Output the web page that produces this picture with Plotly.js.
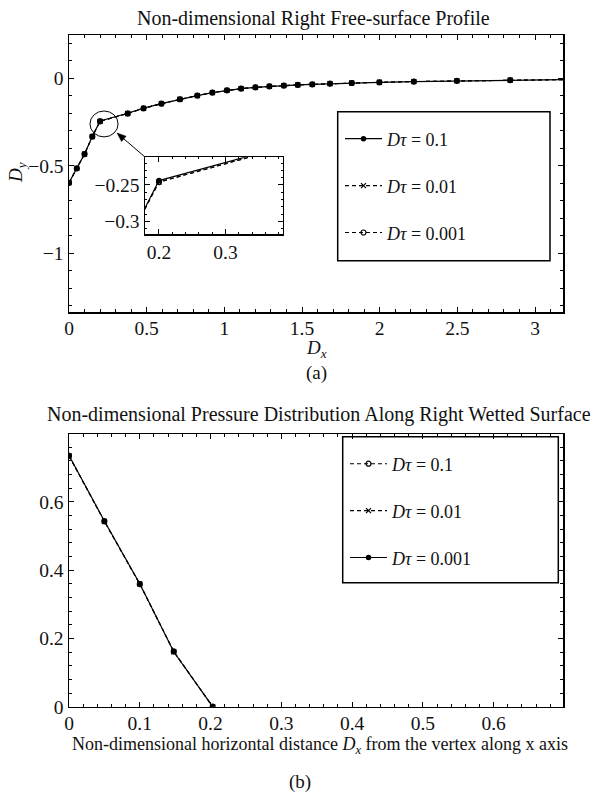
<!DOCTYPE html>
<html>
<head>
<meta charset="utf-8">
<script src="https://cdn.plot.ly/plotly-3.0.1.min.js"></script>
<style>html,body{margin:0;padding:0;background:#fff;}#chart{width:594px;height:796px;}</style>
</head>
<body>
<div id="chart"></div>
<script>
// ---- (a) free-surface profile data ----
const profileX = [0, 0.05, 0.1, 0.15, 0.2, 0.378, 0.48, 0.595, 0.714, 0.826, 0.923, 1.017, 1.108, 1.2, 1.29, 1.383, 1.473, 1.566, 1.68, 1.82, 1.998, 2.22, 2.497, 2.84, 3.25];
const profileY_dt01 = [-0.597, -0.515, -0.433, -0.333, -0.244, -0.200, -0.171, -0.145, -0.120, -0.099, -0.082, -0.069, -0.059, -0.052, -0.046, -0.042, -0.038, -0.035, -0.031, -0.027, -0.023, -0.019, -0.015, -0.011, -0.007];
const profileY_dt001 = [-0.597, -0.515, -0.433, -0.333, -0.246, -0.2015, -0.172, -0.145, -0.120, -0.099, -0.082, -0.069, -0.059, -0.052, -0.046, -0.042, -0.038, -0.035, -0.031, -0.027, -0.023, -0.019, -0.015, -0.011, -0.007];
const profileY_dt0001 = [-0.597, -0.515, -0.433, -0.333, -0.246, -0.2015, -0.172, -0.145, -0.120, -0.099, -0.082, -0.069, -0.059, -0.052, -0.046, -0.042, -0.038, -0.035, -0.031, -0.027, -0.023, -0.019, -0.015, -0.011, -0.007];
const profileNames = ['<i>Dτ</i> = 0.1', '<i>Dτ</i> = 0.01', '<i>Dτ</i> = 0.001'];

// ---- (b) pressure distribution data ----
const pressX = [0, 0.05, 0.1, 0.148, 0.203];
const pressY_dt01 = [0.735, 0.543, 0.359, 0.162, 0.0];
const pressY_dt001 = [0.735, 0.543, 0.360, 0.161, 0.0];
const pressY_dt0001 = [0.736, 0.544, 0.360, 0.161, 0.0];
const pressNames = ['<i>Dτ</i> = 0.1', '<i>Dτ</i> = 0.01', '<i>Dτ</i> = 0.001'];

const FONT = 'Liberation Serif, Times New Roman, serif';
const W = 594, H = 796;
const px = v => v / W;
const py = v => 1 - v / H;
const FS = 19.5;
const LFS = 18;

const solid = {color: '#000', width: 1.2};
const dashed = {color: '#000', width: 1.1, dash: '4px,3px'};
const mDot = {symbol: 'circle', size: 5.5, color: '#000'};
const mX = {symbol: 'x-thin-open', size: 5, color: '#000', line: {color: '#000', width: 1.2}};
const mO = {symbol: 'circle-open', size: 5, color: '#000', line: {color: '#000', width: 1.2}};

const traces = [];
const profSeries = [profileY_dt01, profileY_dt001, profileY_dt0001];
const profStyles = [[solid, mDot], [dashed, mX], [dashed, mO]];
profSeries.forEach((ys, i) => {
  traces.push({x: profileX, y: ys, xaxis: 'x', yaxis: 'y', type: 'scatter', mode: 'lines+markers',
    name: profileNames[i], line: profStyles[i][0], marker: profStyles[i][1],
    legend: 'legend', legendgroup: 'a' + i});
});
profSeries.forEach((ys, i) => {
  traces.push({x: profileX, y: ys, xaxis: 'x3', yaxis: 'y3', type: 'scatter', mode: 'lines+markers',
    name: profileNames[i], line: profStyles[i][0], marker: profStyles[i][1], showlegend: false});
});
const pressSeries = [pressY_dt01, pressY_dt001, pressY_dt0001];
const pressStyles = [[dashed, mO], [dashed, mX], [solid, mDot]];
pressSeries.forEach((ys, i) => {
  traces.push({x: pressX, y: ys, xaxis: 'x2', yaxis: 'y2', type: 'scatter', mode: 'lines+markers',
    name: pressNames[i], line: pressStyles[i][0], marker: pressStyles[i][1],
    legend: 'legend2', legendgroup: 'b' + i});
});

const tickFont = {family: FONT, size: FS, color: '#111'};
function ax(extra) {
  return Object.assign({
    showline: true, linecolor: '#000', linewidth: 1.5, mirror: 'allticks',
    ticks: 'inside', ticklen: 5, tickwidth: 1, tickcolor: '#000',
    showgrid: false, zeroline: false, tickfont: tickFont, fixedrange: true
  }, extra);
}

// arrow geometry (pixels) from inset corner to ellipse
const tail = [145, 157], head = [117, 133];
const dxA = head[0] - tail[0], dyA = head[1] - tail[1];
const lenA = Math.hypot(dxA, dyA), ux = dxA / lenA, uy = dyA / lenA;
const bx = head[0] - 9 * ux, by = head[1] - 9 * uy;
const w1 = [bx + 3.5 * (-uy), by + 3.5 * ux], w2 = [bx - 3.5 * (-uy), by - 3.5 * ux];
const P = (p) => px(p[0]) + ',' + py(p[1]);

const layout = {
  width: W, height: H,
  margin: {l: 0, r: 0, t: 0, b: 0},
  paper_bgcolor: '#fff', plot_bgcolor: 'rgba(0,0,0,0)',
  font: {family: FONT, color: '#111', size: FS},
  xaxis: ax({domain: [px(69), px(563)], anchor: 'y', range: [0, 3.18], dtick: 0.5, tick0: 0,
    ticklabelstandoff: -2,
    minor: {dtick: 0.1, ticks: 'inside', ticklen: 3, tickcolor: '#000'}}),
  yaxis: ax({domain: [py(312), py(35)], anchor: 'x', range: [-1.335, 0.247], dtick: 0.5, tick0: 0,
    minor: {dtick: 0.1, ticks: 'inside', ticklen: 3, tickcolor: '#000'}}),
  xaxis3: ax({domain: [px(145), px(282.7)], anchor: 'y3', range: [0.179, 0.386], dtick: 0.1, tick0: 0,
    minor: {dtick: 0.02, ticks: 'inside', ticklen: 2, tickcolor: '#000'}}),
  yaxis3: ax({domain: [py(234.3), py(157.3)], anchor: 'x3', range: [-0.3173, -0.2122], dtick: 0.05, tick0: 0,
    minor: {dtick: 0.01, ticks: 'inside', ticklen: 2, tickcolor: '#000'}}),
  xaxis2: ax({domain: [px(69), px(563)], anchor: 'y2', range: [0, 0.698], dtick: 0.1, tick0: 0,
    ticklabelstandoff: -2,
    minor: {dtick: 0.02, ticks: 'inside', ticklen: 3, tickcolor: '#000'}}),
  yaxis2: ax({domain: [py(706.7), py(434.3)], anchor: 'x2', range: [0, 0.798], dtick: 0.2, tick0: 0,
    minor: {dtick: 0.04, ticks: 'inside', ticklen: 3, tickcolor: '#000'}}),
  legend: {x: px(340), y: py(120.5), xanchor: 'left', yanchor: 'top', bgcolor: 'rgba(0,0,0,0)',
    borderwidth: 0, itemwidth: 37, tracegroupgap: 20.5, traceorder: 'grouped',
    font: {family: FONT, size: LFS, color: '#111'}},
  legend2: {x: px(345), y: py(445.5), xanchor: 'left', yanchor: 'top', bgcolor: 'rgba(0,0,0,0)',
    borderwidth: 0, itemwidth: 37, tracegroupgap: 20.5, traceorder: 'grouped',
    font: {family: FONT, size: LFS, color: '#111'}},
  shapes: [
    {type: 'rect', xref: 'paper', yref: 'paper', x0: px(337.7), x1: px(550), y0: py(260.7), y1: py(111.7),
      line: {color: '#000', width: 1.5}},
    {type: 'rect', xref: 'paper', yref: 'paper', x0: px(342.7), x1: px(558.3), y0: py(582.7), y1: py(436.7),
      line: {color: '#000', width: 1.5}},
    {type: 'circle', xref: 'x', yref: 'y', x0: 0.135, x1: 0.316, y0: -0.335, y1: -0.187,
      line: {color: '#000', width: 1}},
    {type: 'line', xref: 'paper', yref: 'paper', x0: px(tail[0]), y0: py(tail[1]), x1: px(bx), y1: py(by),
      line: {color: '#000', width: 1}},
    {type: 'path', xref: 'paper', yref: 'paper', path: 'M' + P(head) + ' L' + P(w1) + ' L' + P(w2) + ' Z',
      fillcolor: '#000', line: {color: '#000', width: 0.5}}
  ],
  annotations: [
    {text: 'Non-dimensional Right Free-surface Profile', xref: 'paper', yref: 'paper', x: px(313.5), y: py(18),
      xanchor: 'center', yanchor: 'middle', showarrow: false, font: {family: FONT, size: 20, color: '#111'}},
    {text: 'Non-dimensional Pressure Distribution Along Right Wetted Surface', xref: 'paper', yref: 'paper',
      x: px(318.5), y: py(415), xanchor: 'center', yanchor: 'middle', showarrow: false,
      font: {family: FONT, size: 20, color: '#111'}},
    {text: '<i>D<sub>x</sub></i>', xref: 'paper', yref: 'paper', x: px(316), y: py(349), xanchor: 'center',
      yanchor: 'middle', showarrow: false, font: {family: FONT, size: 19, color: '#111'}},
    {text: '<i>D<sub>y</sub></i>', xref: 'paper', yref: 'paper', x: px(17), y: py(173), xanchor: 'center',
      yanchor: 'middle', textangle: -90, showarrow: false, font: {family: FONT, size: 19, color: '#111'}},
    {text: 'Non-dimensional horizontal distance <i>D<sub>x</sub></i> from the vertex along x axis',
      xref: 'paper', yref: 'paper', x: px(320), y: py(745), xanchor: 'center', yanchor: 'middle',
      showarrow: false, font: {family: FONT, size: 18, color: '#111'}},
    {text: '(a)', xref: 'paper', yref: 'paper', x: px(316), y: py(373), xanchor: 'center', yanchor: 'middle',
      showarrow: false, font: {family: FONT, size: 19, color: '#111'}},
    {text: '(b)', xref: 'paper', yref: 'paper', x: px(300), y: py(782), xanchor: 'center', yanchor: 'middle',
      showarrow: false, font: {family: FONT, size: 19, color: '#111'}}
  ]
};

Plotly.newPlot('chart', traces, layout, {displayModeBar: false, staticPlot: true});
</script>
</body>
</html>
